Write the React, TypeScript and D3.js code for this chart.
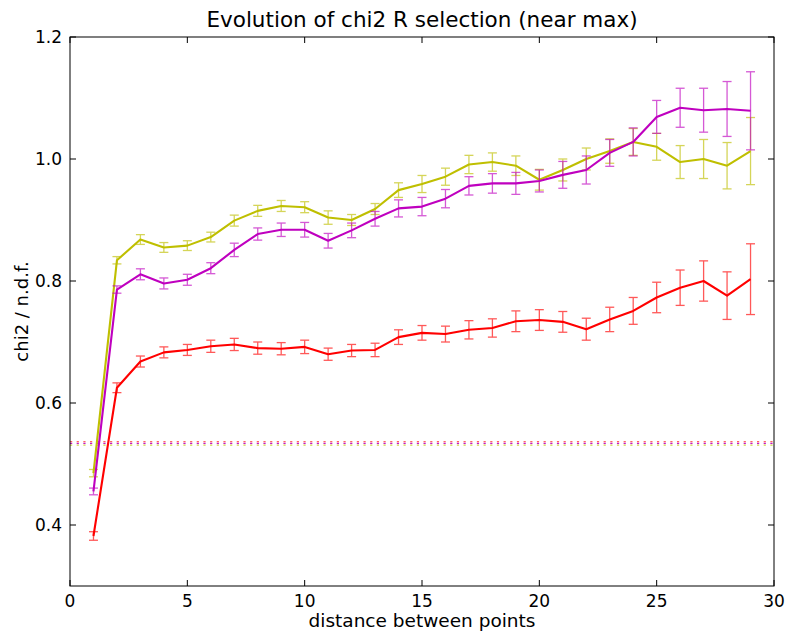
import React from "react";
import * as d3 from "d3";

const xs = [1,2,3,4,5,6,7,8,9,10,11,12,13,14,15,16,17,18,19,20,21,22,23,24,25,26,27,28,29];
const yellowVals = [0.485,0.834,0.868,0.855,0.858,0.872,0.899,0.915,0.923,0.921,0.904,0.900,0.918,0.949,0.959,0.971,0.991,0.995,0.989,0.966,0.982,1.000,1.013,1.028,1.020,0.995,1.000,0.989,1.013];
const yellowErr = [0.006,0.006,0.008,0.008,0.008,0.008,0.009,0.009,0.009,0.009,0.011,0.009,0.009,0.012,0.014,0.014,0.015,0.015,0.016,0.017,0.018,0.018,0.020,0.022,0.022,0.027,0.032,0.038,0.055];
const magentaVals = [0.455,0.786,0.811,0.796,0.802,0.821,0.851,0.877,0.884,0.884,0.866,0.883,0.902,0.919,0.922,0.935,0.956,0.960,0.960,0.964,0.974,0.982,1.010,1.028,1.069,1.084,1.080,1.082,1.079];
const magentaErr = [0.0055,0.006,0.009,0.009,0.009,0.009,0.011,0.010,0.011,0.012,0.012,0.012,0.012,0.014,0.015,0.015,0.015,0.016,0.018,0.018,0.022,0.023,0.022,0.023,0.027,0.032,0.036,0.045,0.064];
const redVals = [0.382,0.625,0.668,0.683,0.687,0.693,0.696,0.690,0.689,0.692,0.680,0.686,0.687,0.708,0.715,0.713,0.720,0.723,0.734,0.736,0.733,0.721,0.737,0.751,0.773,0.789,0.800,0.776,0.803];
const redErr = [0.007,0.008,0.009,0.009,0.009,0.010,0.010,0.010,0.010,0.011,0.010,0.010,0.011,0.012,0.012,0.013,0.015,0.015,0.017,0.017,0.017,0.018,0.020,0.022,0.025,0.029,0.033,0.039,0.058];
const refNames = ["yellow", "magenta", "red"];
const refValues = [0.5311, 0.5339, 0.5366];
const xTicks = [0,5,10,15,20,25,30];
const yTicks = [0.4,0.6,0.8,1.0,1.2];

const COLORS: Record<string,string> = { red: "#ff0000", magenta: "#bf00bf", yellow: "#bfbf00" };
const REF_OPACITY: Record<string,number> = { red: 0.6, magenta: 0.9, yellow: 0.7 };

export default function App() {
  const W = 787, H = 632;
  const left = 70, right = 774, top = 37, bottom = 586;
  const x = d3.scaleLinear().domain([0, 30]).range([left, right]);
  const y = d3.scaleLinear().domain([0.3, 1.2]).range([bottom, top]);
  const line = d3.line<[number, number]>().x(d => x(d[0])).y(d => y(d[1]));
  const series = [
    { name: "yellow", vals: yellowVals, err: yellowErr },
    { name: "magenta", vals: magentaVals, err: magentaErr },
    { name: "red", vals: redVals, err: redErr },
  ];
  const font = "'DejaVu Sans', sans-serif";
  const capW = 4.5;
  return (
    <svg width={W} height={H} style={{ position: "absolute", left: 0, top: 0, background: "#fff" }} fontFamily={font}>
      <rect x={0} y={0} width={W} height={H} fill="#fff" />
      <defs>
        <clipPath id="plotclip"><rect x={left} y={top} width={right - left} height={bottom - top} /></clipPath>
      </defs>
      <g clipPath="url(#plotclip)">
        {refValues.map((v, i) => (
          <line key={"ref" + i} x1={left} x2={right} y1={y(v)} y2={y(v)} stroke={COLORS[refNames[i]]}
            strokeWidth={1.2} strokeDasharray="2.2 4.47" opacity={REF_OPACITY[refNames[i]]} />
        ))}
        {series.map(s => (
          <g key={s.name}>
            {xs.map((xv, i) => {
              const yh = y(s.vals[i] + s.err[i]);
              const yl = y(s.vals[i] - s.err[i]);
              const cx = x(xv);
              return (
                <g key={i} stroke={COLORS[s.name]} strokeWidth={1.3} opacity={0.65}>
                  <line x1={cx} x2={cx} y1={yh} y2={yl} />
                  <line x1={cx - capW} x2={cx + capW} y1={yh} y2={yh} />
                  <line x1={cx - capW} x2={cx + capW} y1={yl} y2={yl} />
                </g>
              );
            })}
            <path d={line(xs.map((xv, i) => [xv, s.vals[i]] as [number, number])) || ""}
              fill="none" stroke={COLORS[s.name]} strokeWidth={2.1} strokeLinejoin="round" />
          </g>
        ))}
      </g>
      <rect x={left} y={top} width={right - left} height={bottom - top} fill="none" stroke="#000" strokeWidth={1} />
      {xTicks.map(t => (
        <g key={"xt" + t}>
          <line x1={x(t)} x2={x(t)} y1={bottom} y2={bottom - 6} stroke="#000" />
          <line x1={x(t)} x2={x(t)} y1={top} y2={top + 6} stroke="#000" />
          <text x={x(t)} y={bottom + 21} textAnchor="middle" fontSize={17} fill="#000">{t}</text>
        </g>
      ))}
      {yTicks.map(t => (
        <g key={"yt" + t}>
          <line x1={left} x2={left + 6} y1={y(t)} y2={y(t)} stroke="#000" />
          <line x1={right} x2={right - 6} y1={y(t)} y2={y(t)} stroke="#000" />
          <text x={left - 8} y={y(t) + 6} textAnchor="end" fontSize={17} fill="#000">{t.toFixed(1)}</text>
        </g>
      ))}
      <text x={(left + right) / 2} y={27} textAnchor="middle" fontSize={21.5} fill="#000">Evolution of chi2 R selection (near max)</text>
      <text x={(left + right) / 2} y={627} textAnchor="middle" fontSize={18.5} fill="#000">distance between points</text>
      <text transform={`translate(28,${(top + bottom) / 2}) rotate(-90)`} textAnchor="middle" fontSize={18} fill="#000">chi2 / n.d.f.</text>
    </svg>
  );
}
